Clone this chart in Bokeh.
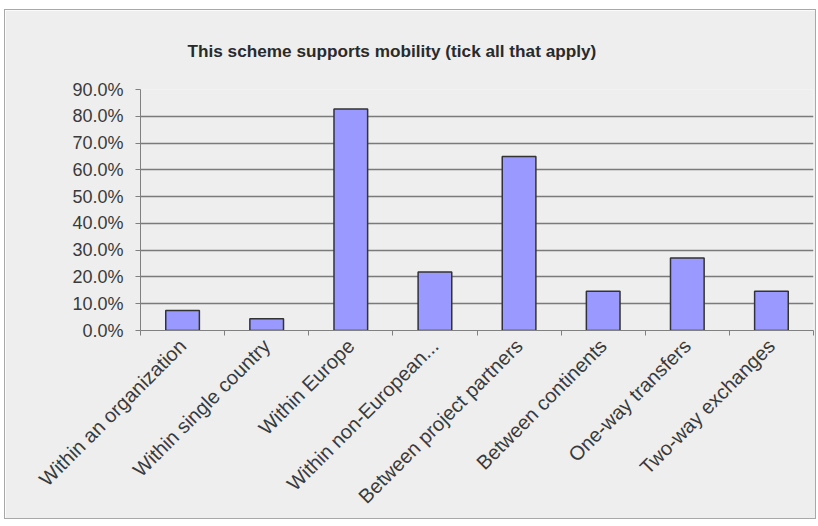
import math
from bokeh.plotting import figure
from bokeh.models import Range1d, FixedTicker, NumeralTickFormatter, Spacer, ColumnDataSource, Title
from bokeh.layouts import column, row
from bokeh.embed import file_html
from bokeh.resources import INLINE

categories = ["Within an organization", "Within single country", "Within Europe",
              "Within non-European...", "Between project partners", "Between continents",
              "One-way transfers", "Two-way exchanges"]
shares = [0.075, 0.044, 0.827, 0.218, 0.650, 0.147, 0.271, 0.147]
y_ticks = [0.0, 0.1, 0.2, 0.3, 0.4, 0.5, 0.6, 0.7, 0.8, 0.9]
title_text = "This scheme supports mobility (tick all that apply)"

positions = [i + 0.5 for i in range(len(categories))]
boundaries = list(range(len(categories) + 1))
src = ColumnDataSource(dict(x=positions, top=shares, cat=categories))

p = figure(width=812, height=510, output_backend="svg", toolbar_location=None,
           x_range=Range1d(0, len(categories)), y_range=Range1d(0, 0.9),
           min_border_left=135, min_border_right=4, min_border_top=79, min_border_bottom=190)
p.styles = {"border": "1px solid #a8a8a8"}
p.background_fill_color = "#eeeeee"
p.border_fill_color = "#eeeeee"
p.outline_line_color = None

p.title = Title(text=title_text, align="left", offset=47, standoff=57,
                text_font="Liberation Sans", text_font_style="bold",
                text_font_size="17.2px", text_color="#2a2a2a")

p.vbar(x="x", top="top", width=0.40, source=src, fill_color="#9999ff",
       line_color="#333333", line_width=1.5)

p.xgrid.visible = False
p.ygrid.grid_line_color = "#7a7a7a"
p.ygrid.grid_line_width = 1.5

ya = p.yaxis[0]
ya.ticker = FixedTicker(ticks=y_ticks)
ya.formatter = NumeralTickFormatter(format="0.0%")
ya.axis_line_color = "#808080"
ya.major_tick_line_color = "#808080"
ya.major_tick_out = 5
ya.major_tick_in = 0
ya.minor_tick_line_color = None
ya.major_label_text_font = "Liberation Sans"
ya.major_label_text_font_size = "18px"
ya.major_label_text_color = "#3a3a3a"
ya.major_label_standoff = 12

xa = p.xaxis[0]
xa.ticker = FixedTicker(ticks=positions, minor_ticks=boundaries)
xa.major_label_overrides = {pos: cat for pos, cat in zip(positions, categories)}
xa.major_tick_line_color = None
xa.minor_tick_line_color = "#808080"
xa.minor_tick_out = 5
xa.minor_tick_in = 0
xa.axis_line_color = "#808080"
xa.major_label_orientation = math.pi / 4
xa.major_label_text_font = "Liberation Sans"
xa.major_label_text_font_size = "20px"
xa.major_label_text_color = "#3a3a3a"
xa.major_label_standoff = 6

layout = column(Spacer(height=9), row(Spacer(width=4), p))
open("out.html", "w").write(file_html(layout, INLINE))
